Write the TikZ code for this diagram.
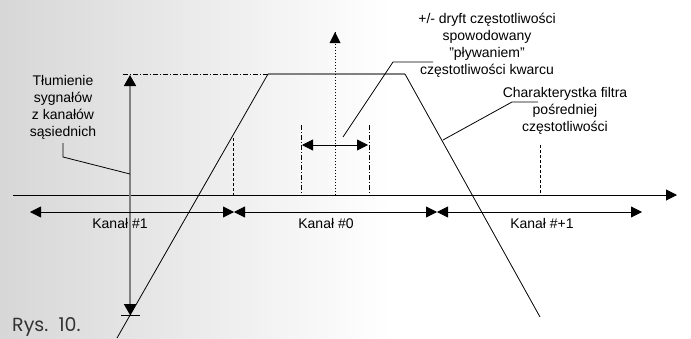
\documentclass[tikz,border=0pt]{standalone}
\usepackage{fontspec}
\setmainfont{Liberation Sans}
\newfontfamily\rysfont{Poppins}
\usetikzlibrary{arrows.meta}
\begin{document}
\begin{tikzpicture}[x=1pt,y=-1pt,
  thinline/.style={line width=0.8pt,black},
  grayline/.style={line width=1.6pt,black!50},
  tip/.style={-{Triangle[length=11pt,width=11pt]}},
  dtip/.style={{Triangle[length=11pt,width=11pt]}-{Triangle[length=11pt,width=11pt]}},
  lbl/.style={font=\fontsize{14}{17}\selectfont,align=center,inner sep=0pt},
  dashdot/.style={line width=0.8pt,dash pattern=on 5pt off 2pt on 1pt off 2pt},
  dashv/.style={line width=0.8pt,dash pattern=on 3pt off 2pt},
  dotv/.style={line width=0.8pt,dash pattern=on 1.5pt off 1.5pt}]
\useasboundingbox (0,0) rectangle (691,338);
\begin{scope}
\clip (0,0) rectangle (691,338);
\shade[left color=black!21,right color=white] (-130,0) rectangle (390,338);
\end{scope}
% coordinates
\coordinate (axL) at (13,195);
\coordinate (axR) at (677,195);
\coordinate (tl) at (268,74);
\coordinate (tr) at (405,74);
\coordinate (bl) at (117,338);
\coordinate (br) at (540,317);
\coordinate (ddL) at (123,74);
\coordinate (attT) at (130,75);
\coordinate (attB) at (130,315);
\coordinate (barL) at (121,315);
\coordinate (barR) at (140,315);
\coordinate (cB) at (335,195);
\coordinate (cT) at (335,32);
\coordinate (v1T) at (301,125);
\coordinate (v1B) at (301,195);
\coordinate (v2T) at (369,125);
\coordinate (v2B) at (369,195);
\coordinate (d1T) at (233,138);
\coordinate (d1B) at (233,195);
\coordinate (d2T) at (540,145);
\coordinate (d2B) at (540,195);
\coordinate (drL) at (302,145);
\coordinate (drR) at (368,145);
\coordinate (k0) at (30,212);
\coordinate (k1) at (234,212);
\coordinate (k2) at (437,212);
\coordinate (k3) at (642,212);
% background lines
\draw[dashdot] (ddL) -- (tl);
\draw[grayline] (tl) -- (tr);
\draw[thinline] (bl) -- (tl);
\draw[thinline] (tr) -- (br);
\draw[line width=1pt,tip] (axL) -- (axR);
\draw[dotv] (cB) -- (cT);
\fill (cT) -- ++(-5.5,11) -- ++(11,0) -- cycle;
\draw[dashdot] (v1T) -- (v1B);
\draw[dashdot] (v2T) -- (v2B);
\draw[dashv] (d1T) -- (d1B);
\draw[dashv] (d2T) -- (d2B);
\draw[thinline,dtip] (drL) -- (drR);
% attenuation arrow
\draw[grayline,{Triangle[length=11pt,width=12pt,fill=black,color=black]}-{Triangle[length=11pt,width=12pt,fill=black,color=black]}] (attT) -- (attB);
\draw[thinline] (barL) -- (barR);
% channel arrows
\draw[thinline,dtip] (k0) -- (k1);
\draw[thinline,dtip] (k1) -- (k2);
\draw[thinline,dtip] (k2) -- (k3);
\node[lbl] (kan1) at (120,223) {Kanał \#1};
\node[lbl] (kan0) at (326,223) {Kanał \#0};
\node[lbl] (kan2) at (542,223) {Kanał \#+1};
% texts
\node[lbl] (drift) at (487,45) {+/- dryft częstotliwości\\spowodowany\\"pływaniem"\\częstotliwości kwarcu};
\node[lbl] (char) at (565,111) {Charakterystka filtra\\pośredniej\\częstotliwości};
\node[lbl] (tlum) at (63,107) {Tłumienie\\sygnałów\\z kanałów\\sąsiednich};
\node[anchor=base west,inner sep=0pt,font=\rysfont\fontsize{19}{21}\selectfont,text=black!80] (rys) at (12,331) {Rys.\ \ 10.};
% leaders
\coordinate (l1a) at (343,137);
\coordinate (l1b) at (393,62);
\coordinate (l1c) at (433,62);
\draw[thinline] (l1a) -- (l1b) -- (l1c);
\coordinate (l2a) at (443,140);
\coordinate (l2b) at (512,102);
\coordinate (l2c) at (538,102);
\draw[thinline] (l2a) -- (l2b) -- (l2c);
\coordinate (l3a) at (63,143);
\coordinate (l3b) at (63,157);
\coordinate (l3c) at (130,174);
\draw[thinline] (l3a) -- (l3b) -- (l3c);
\end{tikzpicture}
\end{document}
